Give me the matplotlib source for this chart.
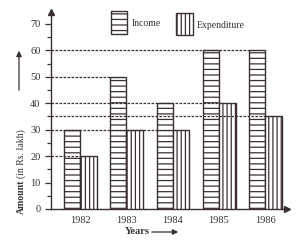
import numpy as np
import matplotlib
matplotlib.use("Agg")
import matplotlib.pyplot as plt
from matplotlib.patches import Rectangle, FancyArrowPatch

years = ['1982', '1983', '1984', '1985', '1986']
income = [30, 50, 40, 60, 60]
expenditure = [20, 30, 30, 40, 35]
y_ticks = [0, 10, 20, 30, 40, 50, 60, 70]

ink = '#3b3030'
plt.rcParams['font.family'] = ['Liberation Serif', 'DejaVu Serif']
plt.rcParams['hatch.linewidth'] = 0.9
plt.rcParams['hatch.color'] = ink

W, H = 300, 248
fig = plt.figure(figsize=(3.0, 2.48), dpi=100)

def fx(px):
    return px / W

def fy(py):
    return 1 - py / H

# axes: y-axis at x=51px, x-axis at y=209px, arrow tips at x=287, y=12
ax = fig.add_axes([fx(51), fy(209), (287 - 51) / W, (209 - 12) / H])
ax.set_xlim(-0.63, 4.47)
ax.set_ylim(0, 74.5)

x = np.arange(len(years))
w_inc = 0.35
w_exp = 0.36
ax.bar(x - w_inc / 2, income, w_inc, facecolor='white', edgecolor=ink,
       hatch='---', linewidth=1.0, zorder=3)
ax.bar(x + w_exp / 2, expenditure, w_exp, facecolor='white', edgecolor=ink,
       hatch='||||', linewidth=1.0, zorder=3)

# dashed reference lines: from the axis to the rightmost bar of that height
lefts = {}
for i in range(len(years)):
    lefts.setdefault(income[i], []).append(x[i] - w_inc)
    lefts.setdefault(expenditure[i], []).append(x[i])
for val, xs in lefts.items():
    ax.hlines(val, -0.63, max(xs), colors=ink, linestyles=(0, (2, 1.2)),
              linewidth=0.9, zorder=4)

ax.set_xticks(x)
ax.set_xticklabels(years)
ax.set_yticks(y_ticks)
ax.set_yticks(np.arange(5, 75, 10), minor=True)
ax.tick_params(axis='both', colors=ink, labelcolor='#333333', labelsize=7.5,
               length=4, width=0.9)
ax.tick_params(axis='y', which='minor', length=3, width=0.9, colors=ink)
ax.tick_params(axis='x', length=0, pad=5)
for s in ['top', 'right']:
    ax.spines[s].set_visible(False)
for s in ['left', 'bottom']:
    ax.spines[s].set_color(ink)
    ax.spines[s].set_linewidth(1.0)
ax.plot(1, 0, '>', color=ink, ms=5, transform=ax.transAxes, clip_on=False)
ax.plot(0, 1, '^', color=ink, ms=5, transform=ax.transAxes, clip_on=False)

# y title: bold "Amount" then plain "(in Rs. lakh)" stacked upwards
t1 = fig.text(fx(21), fy(214), 'Amount', rotation=90, ha='center',
              va='bottom', fontsize=7, fontweight='bold', color='#333333')
fig.canvas.draw()
top1 = t1.get_window_extent().y1
fig.text(fx(21), (top1 + 2) / H, '(in Rs. lakh)', rotation=90, ha='center',
         va='bottom', fontsize=7, color='#333333')
fig.patches.append(FancyArrowPatch((fx(19), fy(93)), (fx(19), fy(48)),
                                   transform=fig.transFigure,
                                   arrowstyle='-|>', mutation_scale=8,
                                   color=ink, lw=0.9))
fig.text(fx(137), fy(232), 'Years', ha='center', va='center', fontsize=7.5,
         fontweight='bold', color='#333333')
fig.patches.append(FancyArrowPatch((fx(149), fy(232)), (fx(181), fy(232)),
                                   transform=fig.transFigure,
                                   arrowstyle='-|>', mutation_scale=8,
                                   color=ink, lw=0.9))

# legend
fig.patches.append(Rectangle((fx(111), fy(34)), 16 / W, 23 / H,
                             transform=fig.transFigure, facecolor='white',
                             edgecolor=ink, hatch='---', linewidth=1.0))
fig.text(fx(132), fy(23), 'Income', ha='left', va='center', fontsize=7,
         color='#333333')
fig.patches.append(Rectangle((fx(176), fy(35)), 17 / W, 22 / H,
                             transform=fig.transFigure, facecolor='white',
                             edgecolor=ink, hatch='||||', linewidth=1.0))
fig.text(fx(197), fy(26), 'Expenditure', ha='left', va='center', fontsize=7,
         color='#333333')

fig.savefig('out.png', dpi=100)
